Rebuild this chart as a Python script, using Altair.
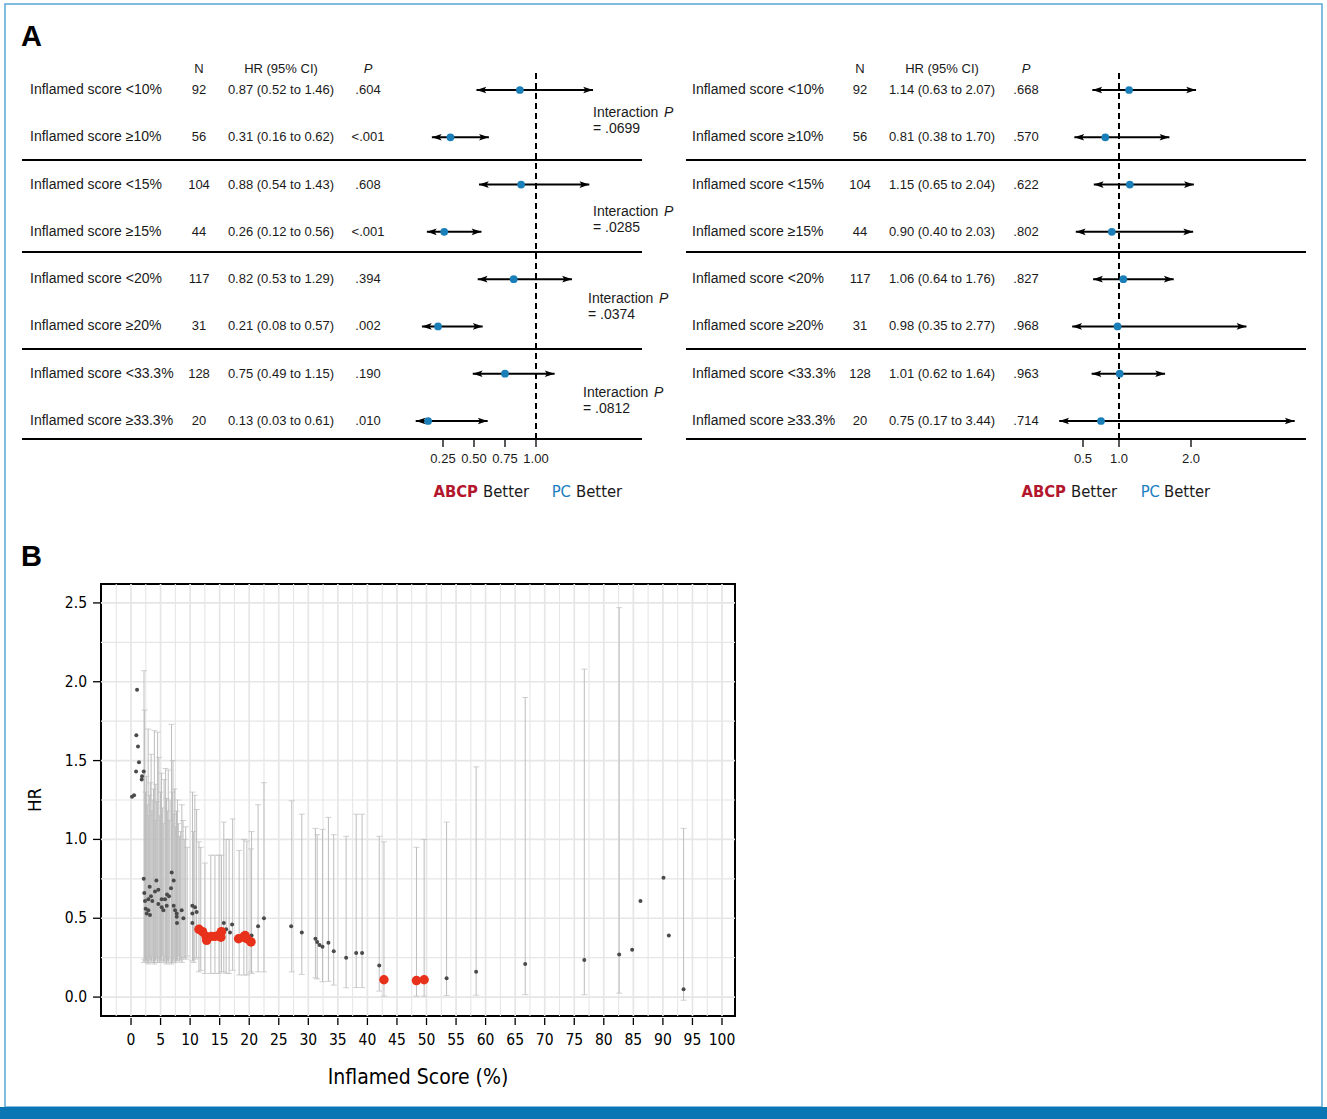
import altair as alt
import pandas as pd

# ---------------- Panel A data ----------------
row_labels = [
    "Inflamed score <10%", "Inflamed score \u226510%",
    "Inflamed score <15%", "Inflamed score \u226515%",
    "Inflamed score <20%", "Inflamed score \u226520%",
    "Inflamed score <33.3%", "Inflamed score \u226533.3%",
]
n_values = [92, 56, 104, 44, 117, 31, 128, 20]

left_hr = [0.87, 0.31, 0.88, 0.26, 0.82, 0.21, 0.75, 0.13]
left_lo = [0.52, 0.16, 0.54, 0.12, 0.53, 0.08, 0.49, 0.03]
left_hi = [1.46, 0.62, 1.43, 0.56, 1.29, 0.57, 1.15, 0.61]
left_p = [".604", "<.001", ".608", "<.001", ".394", ".002", ".190", ".010"]

right_hr = [1.14, 0.81, 1.15, 0.90, 1.06, 0.98, 1.01, 0.75]
right_lo = [0.63, 0.38, 0.65, 0.40, 0.64, 0.35, 0.62, 0.17]
right_hi = [2.07, 1.70, 2.04, 2.03, 1.76, 2.77, 1.64, 3.44]
right_p = [".668", ".570", ".622", ".802", ".827", ".968", ".963", ".714"]

interaction_p = ["= .0699", "= .0285", "= .0374", "= .0812"]

left_ticks = [0.25, 0.50, 0.75, 1.00]
left_tick_labels = ["0.25", "0.50", "0.75", "1.00"]
right_ticks = [0.5, 1.0, 2.0]
right_tick_labels = ["0.5", "1.0", "2.0"]

# ---------------- Panel B data ----------------
gray_x = [0.17, 0.51, 1.02, 0.90, 1.18, 1.35, 0.85, 2.15, 1.86, 1.81,
          2.15, 4.29, 3.16, 2.25, 4.06, 4.62, 6.88, 7.22, 6.77, 6.09,
          6.43, 3.38, 2.93, 2.37, 3.60, 5.19, 5.75, 4.62, 6.04, 5.19,
          2.48, 2.93, 2.65, 3.21, 5.47, 7.22, 7.45, 7.73, 8.57, 7.73,
          8.86, 7.78, 10.38, 10.83, 11.10, 10.38, 10.38,
          15.7, 17.1, 16.1, 16.75, 20.4, 21.5, 22.5, 27.1, 28.9, 31.2,
          31.5, 31.9, 32.4, 33.4, 34.3, 36.4, 38.1, 39.1, 42.0,
          53.4, 58.4, 66.7, 76.7, 82.6, 84.8, 86.2, 90.1, 91.0, 93.5]
gray_hr = [1.27, 1.28, 1.95, 1.66, 1.59, 1.49, 1.43, 1.43, 1.40, 1.38,
           0.75, 0.74, 0.70, 0.66, 0.67, 0.68, 0.79, 0.74, 0.69, 0.65,
           0.64, 0.64, 0.62, 0.61, 0.61, 0.62, 0.62, 0.59, 0.58, 0.57,
           0.56, 0.55, 0.53, 0.52, 0.55, 0.58, 0.55, 0.53, 0.55, 0.51,
           0.50, 0.47, 0.58, 0.57, 0.54, 0.53, 0.47,
           0.47, 0.46, 0.43, 0.41, 0.39, 0.45, 0.50, 0.45, 0.41, 0.37,
           0.35, 0.33, 0.32, 0.345, 0.29, 0.25, 0.28, 0.28, 0.20,
           0.12, 0.16, 0.21, 0.235, 0.27, 0.30, 0.61, 0.757, 0.39, 0.05]

red_x = [11.5, 12.1, 12.7, 12.8, 13.6, 14.2, 14.8, 15.3, 15.2,
         18.2, 19.0, 19.3, 19.6, 20.3, 42.8, 48.3, 49.6]
red_hr = [0.43, 0.415, 0.385, 0.36, 0.385, 0.385, 0.39, 0.415, 0.38,
          0.37, 0.38, 0.39, 0.37, 0.35, 0.11, 0.105, 0.11]

ci_x = [2.2, 2.3, 2.45, 2.6, 2.75, 2.9, 3.0, 3.1, 3.25, 3.4, 3.55, 3.7, 3.8, 3.95,
        4.1, 4.2, 4.35, 4.5, 4.7, 4.85, 5.0, 5.15, 5.3, 5.45, 5.6, 5.85, 6.0,
        6.15, 6.3, 6.45, 6.6, 6.85, 7.0, 7.1, 7.25, 7.4, 7.55, 7.7, 7.85, 8.0,
        8.2, 8.4, 8.6, 8.8, 9.0, 9.25, 9.5, 10.4, 10.6, 10.8, 11.1,
        11.5, 11.8, 12.5, 13.5, 14.2, 14.9, 15.3, 15.7, 16.1, 16.6,
        17.2, 18.3, 19.1, 19.6, 20.3, 20.4, 21.5, 22.5,
        27.2, 28.9, 31.2, 31.5, 32.4, 33.4, 34.3, 36.4, 38.1, 39.1,
        42.0, 42.8, 48.3, 49.6, 53.4, 58.4, 66.7, 76.7, 82.6, 93.5]
ci_lo = [0.22, 0.24, 0.23, 0.23, 0.22, 0.21, 0.24, 0.25, 0.23, 0.22, 0.24, 0.26, 0.22, 0.21,
         0.23, 0.24, 0.25, 0.22, 0.25, 0.22, 0.23, 0.24, 0.26, 0.23, 0.22, 0.24, 0.21,
         0.23, 0.22, 0.24, 0.25, 0.21, 0.22, 0.23, 0.24, 0.25, 0.22, 0.23, 0.24, 0.26,
         0.23, 0.24, 0.22, 0.25, 0.25, 0.24, 0.26, 0.23, 0.22, 0.24, 0.25,
         0.16, 0.17, 0.15, 0.15, 0.15, 0.15, 0.16, 0.16, 0.15, 0.15,
         0.17, 0.14, 0.14, 0.14, 0.16, 0.15, 0.16, 0.16,
         0.16, 0.144, 0.122, 0.115, 0.097, 0.10, 0.076, 0.059, 0.06, 0.06,
         0.038, 0.006, 0.006, 0.006, 0.01, 0.012, 0.015, 0.015, 0.025, -0.02]
ci_hi = [2.07, 1.82, 1.30, 1.40, 1.22, 1.70, 1.15, 1.28, 1.36, 1.54, 1.18, 1.25, 1.32, 1.69,
         1.12, 1.35, 1.24, 1.68, 1.52, 1.15, 1.30, 1.42, 1.20, 1.10, 1.38, 1.45, 1.26,
         1.18, 1.44, 1.12, 1.25, 1.73, 1.30, 1.50, 1.16, 1.32, 1.08, 1.18, 1.25, 1.10,
         1.02, 1.05, 1.22, 1.12, 1.00, 1.08, 0.95, 1.30, 1.05, 1.28, 1.19,
         0.985, 0.95, 0.85, 0.90, 0.90, 0.90, 0.90, 1.11, 1.00, 1.00,
         1.13, 0.93, 1.00, 0.99, 0.94, 1.05, 1.22, 1.36,
         1.245, 1.16, 1.07, 1.03, 1.064, 1.14, 1.03, 1.02, 1.16, 1.16,
         1.02, 0.985, 0.95, 1.00, 1.11, 1.46, 1.90, 2.08, 2.47, 1.07]

b_xticks = [0, 5, 10, 15, 20, 25, 30, 35, 40, 45, 50, 55, 60, 65, 70, 75, 80, 85, 90, 95, 100]
b_xlabels = ["0", "5", "10", "15", "20", "25", "30", "35", "40", "45", "50", "55",
             "60", "65", "70", "75", "80", "85", "90", "95", "100"]
b_xminor = [-2.5, 2.5, 7.5, 12.5, 17.5, 22.5, 27.5, 32.5, 37.5, 42.5, 47.5, 52.5,
            57.5, 62.5, 67.5, 72.5, 77.5, 82.5, 87.5, 92.5, 97.5]
b_yticks = [0.0, 0.5, 1.0, 1.5, 2.0, 2.5]
b_ylabels = ["0.0", "0.5", "1.0", "1.5", "2.0", "2.5"]
b_yminor = [0.25, 0.75, 1.25, 1.75, 2.25]

# ---------------- layout helpers ----------------
AX, AY = 101, 584          # origin of panel B plot area on the page
def px(v):
    return v - AX
def py(v):
    return v - AY

FONT = "Liberation Sans, Arial, sans-serif"
NARROW = "Liberation Sans Narrow, Arial Narrow, DejaVu Sans Condensed, sans-serif"
TXT = "#1a1a1a"
BLUE = "#1a7fb8"
dummy = pd.DataFrame({"k": [0]})

RIGHT_ARROW = "M0,0L-2.8,-0.95L-2.2,0L-2.8,0.95Z"
LEFT_ARROW = "M0,0L2.8,-0.95L2.2,0L2.8,0.95Z"


def vtext(txt, x, y, size, align="left", weight="normal", style="normal",
          color=TXT, font=FONT, angle=0):
    return alt.Chart(dummy).mark_text(
        text=txt, align=align, baseline="middle", fontSize=size,
        fontWeight=weight, fontStyle=style, color=color, font=font, angle=angle
    ).encode(x=alt.value(px(x)), y=alt.value(py(y)))


def hline(x0, x1, y, w=2.0, color="black"):
    return alt.Chart(dummy).mark_rule(color=color, strokeWidth=w).encode(
        x=alt.value(px(x0)), x2=alt.value(px(x1)), y=alt.value(py(y)))


def forest(hr, lo, hi, pvals, x_zero, x_one, cols, sep, ticks, tick_labels, better):
    xs = alt.Scale(domain=[0, 1], range=[px(x_zero), px(x_one)], zero=False, nice=False)
    ys = alt.Scale(domain=[0, 7], range=[py(90), py(421)], zero=False, nice=False)
    df = pd.DataFrame({
        "row": list(range(len(row_labels))),
        "label": row_labels,
        "n": n_values,
        "hr": hr, "lo": lo, "hi": hi, "p": pvals,
        "hrtxt": [f"{h:.2f} ({l:.2f} to {u:.2f})" for h, l, u in zip(hr, lo, hi)],
    })
    base = alt.Chart(df)
    Y = alt.Y("row:Q", scale=ys, axis=None)
    lab_x, n_x, hr_x, p_x = cols
    layers = [
        vtext("N", n_x, 69, 13, align="center"),
        vtext("HR (95% CI)", hr_x, 69, 13, align="center"),
        vtext("P", p_x, 69, 13, align="center", style="italic"),
        base.mark_text(align="left", baseline="middle", font=FONT, fontSize=14, color=TXT)
            .encode(x=alt.value(px(lab_x)), y=Y, text="label:N"),
        base.mark_text(align="center", baseline="middle", font=FONT, fontSize=13, color=TXT)
            .encode(x=alt.value(px(n_x)), y=Y, text="n:N"),
        base.mark_text(align="center", baseline="middle", font=FONT, fontSize=13, color=TXT)
            .encode(x=alt.value(px(hr_x)), y=Y, text="hrtxt:N"),
        base.mark_text(align="center", baseline="middle", font=FONT, fontSize=13, color=TXT)
            .encode(x=alt.value(px(p_x)), y=Y, text="p:N"),
    ]
    for s in [160, 252, 349, 439]:
        layers.append(hline(sep[0], sep[1], s))
    layers += [
        alt.Chart(pd.DataFrame({"ref": [1.0]})).mark_rule(
            color="black", strokeWidth=2, strokeDash=[6, 4]).encode(
            x=alt.X("ref:Q", scale=xs, axis=None),
            y=alt.value(py(73)), y2=alt.value(py(439))),
        base.mark_rule(color="black", strokeWidth=2).encode(
            x=alt.X("lo:Q", scale=xs, axis=None), x2="hi:Q", y=Y),
        base.mark_point(shape=RIGHT_ARROW, filled=True, size=49, color="black",
                        opacity=1, strokeWidth=0).encode(
            x=alt.X("hi:Q", scale=xs, axis=None), y=Y),
        base.mark_point(shape=LEFT_ARROW, filled=True, size=49, color="black",
                        opacity=1, strokeWidth=0).encode(
            x=alt.X("lo:Q", scale=xs, axis=None), y=Y),
        base.mark_circle(size=60, color=BLUE, opacity=1).encode(
            x=alt.X("hr:Q", scale=xs, axis=None), y=Y),
    ]
    tdf = pd.DataFrame({"t": ticks, "lab": tick_labels})
    layers += [
        alt.Chart(tdf).mark_rule(color="black", strokeWidth=1.3).encode(
            x=alt.X("t:Q", scale=xs, axis=None),
            y=alt.value(py(440)), y2=alt.value(py(447))),
        alt.Chart(tdf).mark_text(align="center", baseline="middle", font=FONT,
                                 fontSize=13, color=TXT).encode(
            x=alt.X("t:Q", scale=xs, axis=None), y=alt.value(py(459)), text="lab:N"),
    ]
    a_end, b_start, pc_end, b2_start = better
    layers += [
        vtext("ABCP", a_end, 492, 16.5, align="right", weight="bold", color="#b3172e", font=NARROW),
        vtext("Better", b_start, 492, 16.5, align="left", font=NARROW),
        vtext("PC", pc_end, 492, 16.5, align="right", color="#1a7dc0", font=NARROW),
        vtext("Better", b2_start, 492, 16.5, align="left", font=NARROW),
    ]
    return alt.layer(*layers)


forest_left = forest(left_hr, left_lo, left_hi, left_p, 412, 536,
                     (30, 199, 281, 368), (22, 642),
                     left_ticks, left_tick_labels, (478, 483, 571, 576))
forest_right = forest(right_hr, right_lo, right_hi, right_p, 1047, 1119,
                      (692, 860, 942, 1026), (686, 1306),
                      right_ticks, right_tick_labels, (1066, 1071, 1160, 1164))

inter_layers = []
for (ix, iy), val in zip([(593, 113), (593, 212), (588, 299), (583, 393)], interaction_p):
    inter_layers.append(vtext("Interaction", ix, iy, 14))
    inter_layers.append(vtext("P", ix + 71, iy, 14, style="italic"))
    inter_layers.append(vtext(val, ix, iy + 16, 14))

# ---------------- Panel B ----------------
xs_b = alt.Scale(domain=[-5.08, 102.2], zero=False, nice=False)
ys_b = alt.Scale(domain=[-0.12, 2.62], zero=False, nice=False)
GRID = "#e6e6e6"
BARC = "#bdbdbd"

ci_df = pd.DataFrame({"x": ci_x, "lo": ci_lo, "hi": ci_hi})
gray_df = pd.DataFrame({"x": gray_x, "hr": gray_hr})
red_df = pd.DataFrame({"x": red_x, "hr": red_hr})
xt_df = pd.DataFrame({"t": b_xticks, "lab": b_xlabels})
yt_df = pd.DataFrame({"t": b_yticks, "lab": b_ylabels})

XB = lambda f: alt.X(f, scale=xs_b, axis=None)
YB = lambda f: alt.Y(f, scale=ys_b, axis=None)

minor_x = alt.Chart(pd.DataFrame({"m": b_xminor})).mark_rule(
    color=GRID, strokeWidth=1.1).encode(x=XB("m:Q"))
minor_y = alt.Chart(pd.DataFrame({"m": b_yminor})).mark_rule(
    color=GRID, strokeWidth=1.1).encode(y=YB("m:Q"))
major_x = alt.Chart(xt_df).mark_rule(color=GRID, strokeWidth=1.7).encode(x=XB("t:Q"))
major_y = alt.Chart(yt_df).mark_rule(color=GRID, strokeWidth=1.7).encode(y=YB("t:Q"))
x_ticks = alt.Chart(xt_df).mark_rule(color="black", strokeWidth=1.3).encode(
    x=XB("t:Q"), y=alt.value(py(1018)), y2=alt.value(py(1025)))
x_labels = alt.Chart(xt_df).mark_text(align="center", baseline="middle", font=NARROW,
                                      fontSize=15.5, color="black").encode(
    x=XB("t:Q"), y=alt.value(py(1040)), text="lab:N")
y_ticks = alt.Chart(yt_df).mark_rule(color="black", strokeWidth=1.3).encode(
    y=YB("t:Q"), x=alt.value(px(93)), x2=alt.value(px(101)))
y_labels = alt.Chart(yt_df).mark_text(align="right", baseline="middle", font=NARROW,
                                      fontSize=15.5, color="black").encode(
    y=YB("t:Q"), x=alt.value(px(87)), text="lab:N")

bars = alt.Chart(ci_df).mark_rule(color=BARC, strokeWidth=1).encode(
    x=XB("x:Q"), y=YB("lo:Q"), y2="hi:Q")
caps_lo = alt.Chart(ci_df).mark_tick(orient="horizontal", size=6, thickness=1, color=BARC).encode(
    x=XB("x:Q"), y=YB("lo:Q"))
caps_hi = alt.Chart(ci_df).mark_tick(orient="horizontal", size=6, thickness=1, color=BARC).encode(
    x=XB("x:Q"), y=YB("hi:Q"))
gray_pts = alt.Chart(gray_df).mark_circle(size=16, color="#4a4a4a", opacity=1).encode(
    x=XB("x:Q"), y=YB("hr:Q"))
red_pts = alt.Chart(red_df).mark_circle(size=90, color="#e8311b", opacity=1).encode(
    x=XB("x:Q"), y=YB("hr:Q"))

panel_b = alt.layer(minor_x, minor_y, major_x, major_y, bars, caps_lo, caps_hi,
                    gray_pts, red_pts, x_ticks, x_labels, y_ticks, y_labels)

title_x = vtext("Inflamed Score (%)", 418, 1078, 21, align="center", font=NARROW, color="black")
title_y = vtext("HR", 35, 800, 18.5, align="center", font=NARROW, color="black", angle=270)

# ---------------- page decorations ----------------
border = alt.Chart(dummy).mark_rect(filled=False, stroke="#5aa6d8", strokeWidth=1.5).encode(
    x=alt.value(px(5)), x2=alt.value(px(1322)), y=alt.value(py(4)), y2=alt.value(py(1107)))
blue_bar = alt.Chart(dummy).mark_rect(color="#0a76b4").encode(
    x=alt.value(px(0)), x2=alt.value(px(1327)), y=alt.value(py(1107)), y2=alt.value(py(1119)))
letter_a = vtext("A", 21, 37, 29, weight="bold", color="black")
letter_b = vtext("B", 21, 557, 29, weight="bold", color="black")

chart = alt.layer(
    border, blue_bar, letter_a, letter_b,
    forest_left, forest_right, *inter_layers, panel_b, title_x, title_y
).resolve_scale(x="independent", y="independent").properties(
    width=634, height=432,
    padding={"left": 101, "top": 584, "right": 592, "bottom": 103},
    autosize=alt.AutoSizeParams(type="none"),
    background="white",
).configure_view(stroke="black", strokeWidth=2)

chart.save("out.html", embed_options={"renderer": "svg", "actions": False})
